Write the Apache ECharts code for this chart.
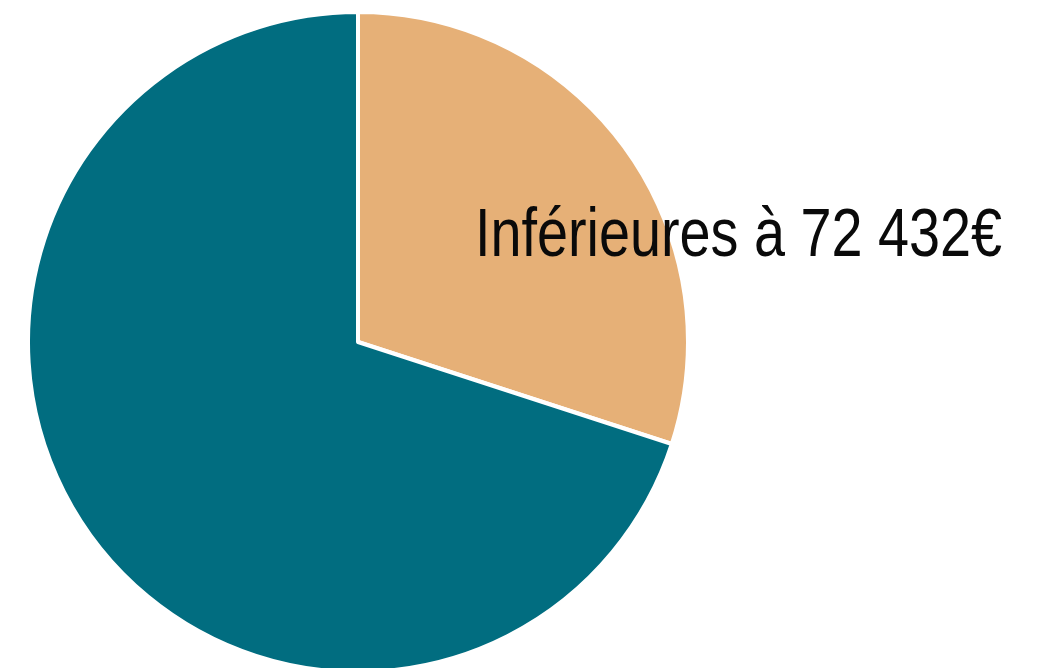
<!DOCTYPE html>
<html>
<head>
<meta charset="utf-8">
<script src="https://cdn.jsdelivr.net/npm/echarts@6/dist/echarts.min.js"></script>
<style>
  html, body { margin: 0; padding: 0; background: #fff; }
  #pie { width: 1061px; height: 668px; }
</style>
</head>
<body>
<div id="pie"></div>
<script>
var names = ['Inférieures à 72 432€', 'Supérieures à 72 432€'];
var values = [30, 70];
var colors = ['#e6b077', '#016d80'];

var chartDom = document.getElementById('pie');
var myChart = echarts.init(chartDom);
var option;

option = {
    animation: false,
    // label of the light slice, condensed like the original narrow font
    graphic: [{
        type: 'text',
        x: 475,
        y: 203,
        scaleX: 0.82,
        z: 100,
        style: {
            text: names[0],
            font: '68px "Liberation Sans", Arial, sans-serif',
            fill: '#0a0a0a',
            verticalAlign: 'top'
        }
    }],
    series: [{
        type: 'pie',
        center: [358, 342],
        radius: 330,
        startAngle: 90,
        label: { show: false },
        labelLine: { show: false },
        itemStyle: {
            borderColor: '#fff',
            borderWidth: 4
        },
        data: names.map(function (n, i) {
            return { name: n, value: values[i], itemStyle: { color: colors[i] } };
        })
    }]
};
option && myChart.setOption(option);
</script>
</body>
</html>
